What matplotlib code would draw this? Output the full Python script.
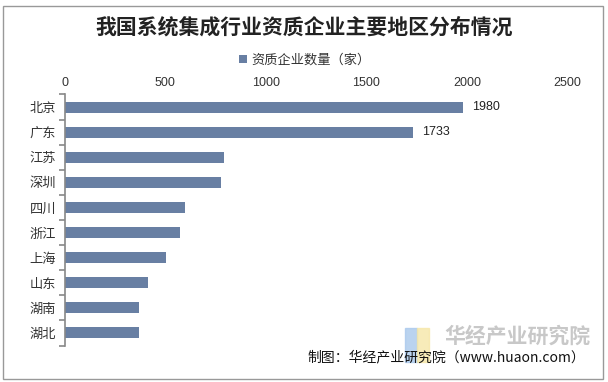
import matplotlib.pyplot as plt
from matplotlib.patches import Rectangle

plt.rcParams['font.family'] = ['Noto Sans CJK SC', 'DejaVu Sans']

# 数据
地区 = ['北京', '广东', '江苏', '深圳', '四川', '浙江', '上海', '山东', '湖南', '湖北']
数量 = [1980, 1733, 793, 778, 599, 574, 504, 415, 370, 370]
标注 = {0: '1980', 1: '1733'}
刻度 = [0, 500, 1000, 1500, 2000, 2500]

fig = plt.figure(figsize=(6.08, 3.82), dpi=100)
ax = fig.add_axes([64.5 / 608, 1 - 345.5 / 382, (567.5 - 64.5) / 608, (345.5 - 94.5) / 382])

y = list(range(len(地区)))
ax.barh(y, 数量, height=0.44, color='#687fa3', label='资质企业数量（家）')
ax.set_ylim(len(地区) - 0.5, -0.5)
ax.set_xlim(0, 2500)
ax.set_yticks(y)
ax.set_yticklabels(地区, fontsize=9.5, color='#333333')
ax.set_xticks(刻度)
ax.set_xticklabels([str(t) for t in 刻度], fontsize=9, color='#333333', family='Liberation Sans')
ax.xaxis.tick_top()
ax.tick_params(axis='x', length=0, pad=4)
# 刻度线放在分类之间
ax.set_yticks([i - 0.5 for i in range(len(地区) + 1)], minor=True)
ax.tick_params(axis='y', which='major', length=0, pad=6)
ax.tick_params(axis='y', which='minor', length=4, color='#888888', width=1.2)
for s in ['top', 'right', 'bottom']:
    ax.spines[s].set_visible(False)
ax.spines['left'].set_color('#888888')
ax.spines['left'].set_linewidth(1.2)

for i, t in 标注.items():
    ax.text(数量[i] + 45, i, t, va='center', ha='left', fontsize=9, color='#222222', family='Liberation Sans')

fig.text(0.5, 1 - 27 / 382, '我国系统集成行业资质企业主要地区分布情况', ha='center', va='center',
         fontsize=15, fontweight='bold', color='#222222')
ax.legend(loc='center', bbox_to_anchor=(305 / 608, 1 - 60 / 382), bbox_transform=fig.transFigure,
          frameon=False, fontsize=9.5, handlelength=0.6, handleheight=0.6, handletextpad=0.3,
          labelcolor='#333333')

# 水印
fig.patches.append(Rectangle((405 / 608, 1 - 362 / 382), 12 / 608, 34 / 382, transform=fig.transFigure,
                             color='#a9c8ec', alpha=0.8))
fig.patches.append(Rectangle((417 / 608, 1 - 362 / 382), 12 / 608, 34 / 382, transform=fig.transFigure,
                             color='#f6e7a8', alpha=0.8))
fig.text(517 / 608, 1 - 336 / 382, '华经产业研究院', ha='center', va='center', fontsize=15,
         fontweight='bold', color='#c8c8c8')
fig.text(446 / 608, 1 - 357 / 382, '制图：华经产业研究院（www.huaon.com）', ha='center', va='center',
         fontsize=10, color='#111111')

# 外框
fig.patches.append(Rectangle((3 / 608, 3 / 382), 600 / 608, 373 / 382, transform=fig.transFigure,
                             fill=False, edgecolor='#999999', linewidth=1))

fig.savefig('out.png', dpi=100)
